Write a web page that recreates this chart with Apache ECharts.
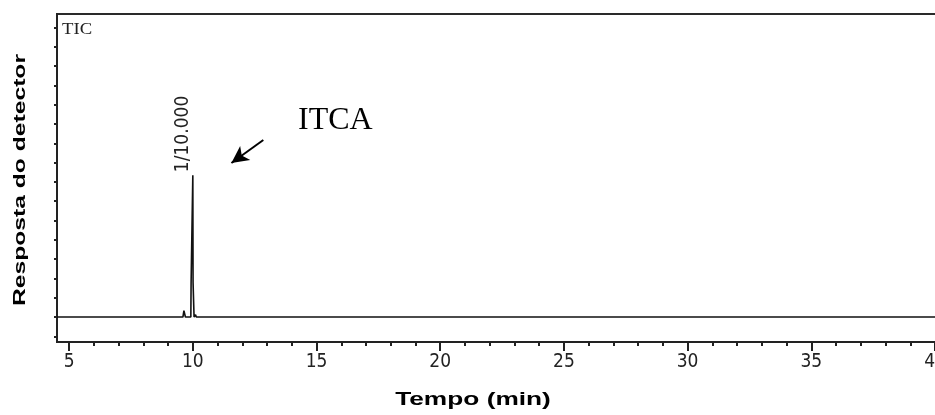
<!DOCTYPE html>
<html>
<head>
<meta charset="utf-8">
<script src="https://cdn.jsdelivr.net/npm/echarts@6/dist/echarts.min.js"></script>
<style>
html,body{margin:0;padding:0;background:#fff;}
#c{width:935px;height:415px;}
</style>
</head>
<body>
<div id="c"></div>
<script>
// ---- data ----
var timeMin = [4.51, 9.60, 9.64, 9.67, 9.70, 9.92, 9.93, 9.96, 9.99, 10.00, 10.01, 10.04, 10.05, 10.08, 10.11, 10.14, 40.08];
var response = [0, 0, 0.33, 0.36, 0, 0, 1.72, 1.78, 1.80, 7.35, 1.78, 1.70, 0, 0, 0.12, 0, 0];
var peakLabel = '1/10.000';
var xMajorTicks = [5, 10, 15, 20, 25, 30, 35, 40];
var xMinorTicks = [6, 7, 8, 9, 11, 12, 13, 14, 16, 17, 18, 19, 21, 22, 23, 24, 26, 27, 28, 29, 31, 32, 33, 34, 36, 37, 38, 39];
var yTicks = [-1, 0, 1, 2, 3, 4, 5, 6, 7, 8, 9, 10, 11, 12, 13, 14, 15];
var xTitle = 'Tempo (min)';
var yTitle = 'Resposta do detector';
var traceName = 'TIC';
var compoundName = 'ITCA';
var arrowFrom = [12.85, 9.17];
var arrowTo = [11.56, 7.98];

var tickFont = "'Liberation Sans Narrow','DejaVu Sans Condensed','Liberation Sans',sans-serif";
var apexIdx = response.indexOf(Math.max.apply(null, response));
var seriesData = timeMin.map(function (t, i) {
  var item = { value: [t, response[i]] };
  if (i === apexIdx) {
    item.label = {
      show: true, formatter: peakLabel, position: 'top', distance: 3,
      rotate: 90, align: 'left', verticalAlign: 'bottom',
      fontFamily: tickFont, fontSize: 19, color: '#222'
    };
  }
  return item;
});

var X_MIN = 4.51, X_MAX = 40.08, Y_MIN = -1.295, Y_MAX = 15.70;

var chart = echarts.init(document.getElementById('c'), null, { renderer: 'canvas' });
chart.setOption({
  animation: false,
  backgroundColor: '#fff',
  grid: { left: 57, top: 14, right: -2, bottom: 73, outerBoundsMode: 'none', containLabel: false, show: true, borderColor: '#2a2a2a', borderWidth: 2, backgroundColor: 'transparent' },
  xAxis: [
    {
      type: 'value', min: X_MIN, max: X_MAX, position: 'bottom',
      axisLine: { show: true, onZero: false, lineStyle: { color: '#222', width: 2 } },
      axisTick: { show: true, customValues: xMajorTicks, length: 9, inside: false, lineStyle: { color: '#222', width: 2 } },
      axisLabel: { show: true, customValues: xMajorTicks, margin: 11, fontFamily: tickFont, fontSize: 19, color: '#222' },
      splitLine: { show: false }
    },
    {
      type: 'value', min: X_MIN, max: X_MAX, position: 'bottom', gridIndex: 0,
      axisLine: { show: false, onZero: false },
      axisTick: { show: true, customValues: xMinorTicks, length: 4, inside: false, lineStyle: { color: '#222', width: 2 } },
      axisLabel: { show: false },
      splitLine: { show: false }
    }
  ],
  yAxis: {
    type: 'value', min: Y_MIN, max: Y_MAX,
    axisLine: { show: true, onZero: false, lineStyle: { color: '#222', width: 2 } },
    axisTick: { show: true, customValues: yTicks, length: 3, inside: false, lineStyle: { color: '#222', width: 2 } },
    axisLabel: { show: false },
    splitLine: { show: false }
  },
  series: [{
    type: 'line', xAxisIndex: 0, yAxisIndex: 0,
    data: seriesData, showSymbol: true, symbol: 'circle', symbolSize: 0,
    itemStyle: { color: '#111' },
    lineStyle: { color: '#111', width: 1.6 },
    clip: false,
    markLine: {
      silent: true, symbol: ['none', 'arrow'], symbolSize: [13, 17],
      label: { show: false },
      lineStyle: { color: '#000', width: 2, type: 'solid' },
      data: [[{ coord: arrowFrom }, { coord: arrowTo }]]
    }
  }],
  graphic: [
    { type: 'text', x: 62, y: 21, scaleX: 1.1, style: { text: traceName, font: "17px 'Liberation Serif', serif", fill: '#222', align: 'left', verticalAlign: 'top' } },
    { type: 'text', x: 298, y: 121, style: { text: compoundName, font: "32px 'Liberation Serif', serif", fill: '#000', align: 'left', verticalAlign: 'middle' } },
    { type: 'text', x: 473, y: 400, scaleX: 1.46, style: { text: xTitle, font: "bold 18px 'Liberation Sans', Arial, sans-serif", fill: '#000', align: 'center', verticalAlign: 'middle' } },
    { type: 'text', x: 20, y: 180, rotation: Math.PI / 2, scaleX: 1.45, style: { text: yTitle, font: "bold 17px 'Liberation Sans', Arial, sans-serif", fill: '#000', align: 'center', verticalAlign: 'middle' } }
  ]
});
</script>
</body>
</html>
